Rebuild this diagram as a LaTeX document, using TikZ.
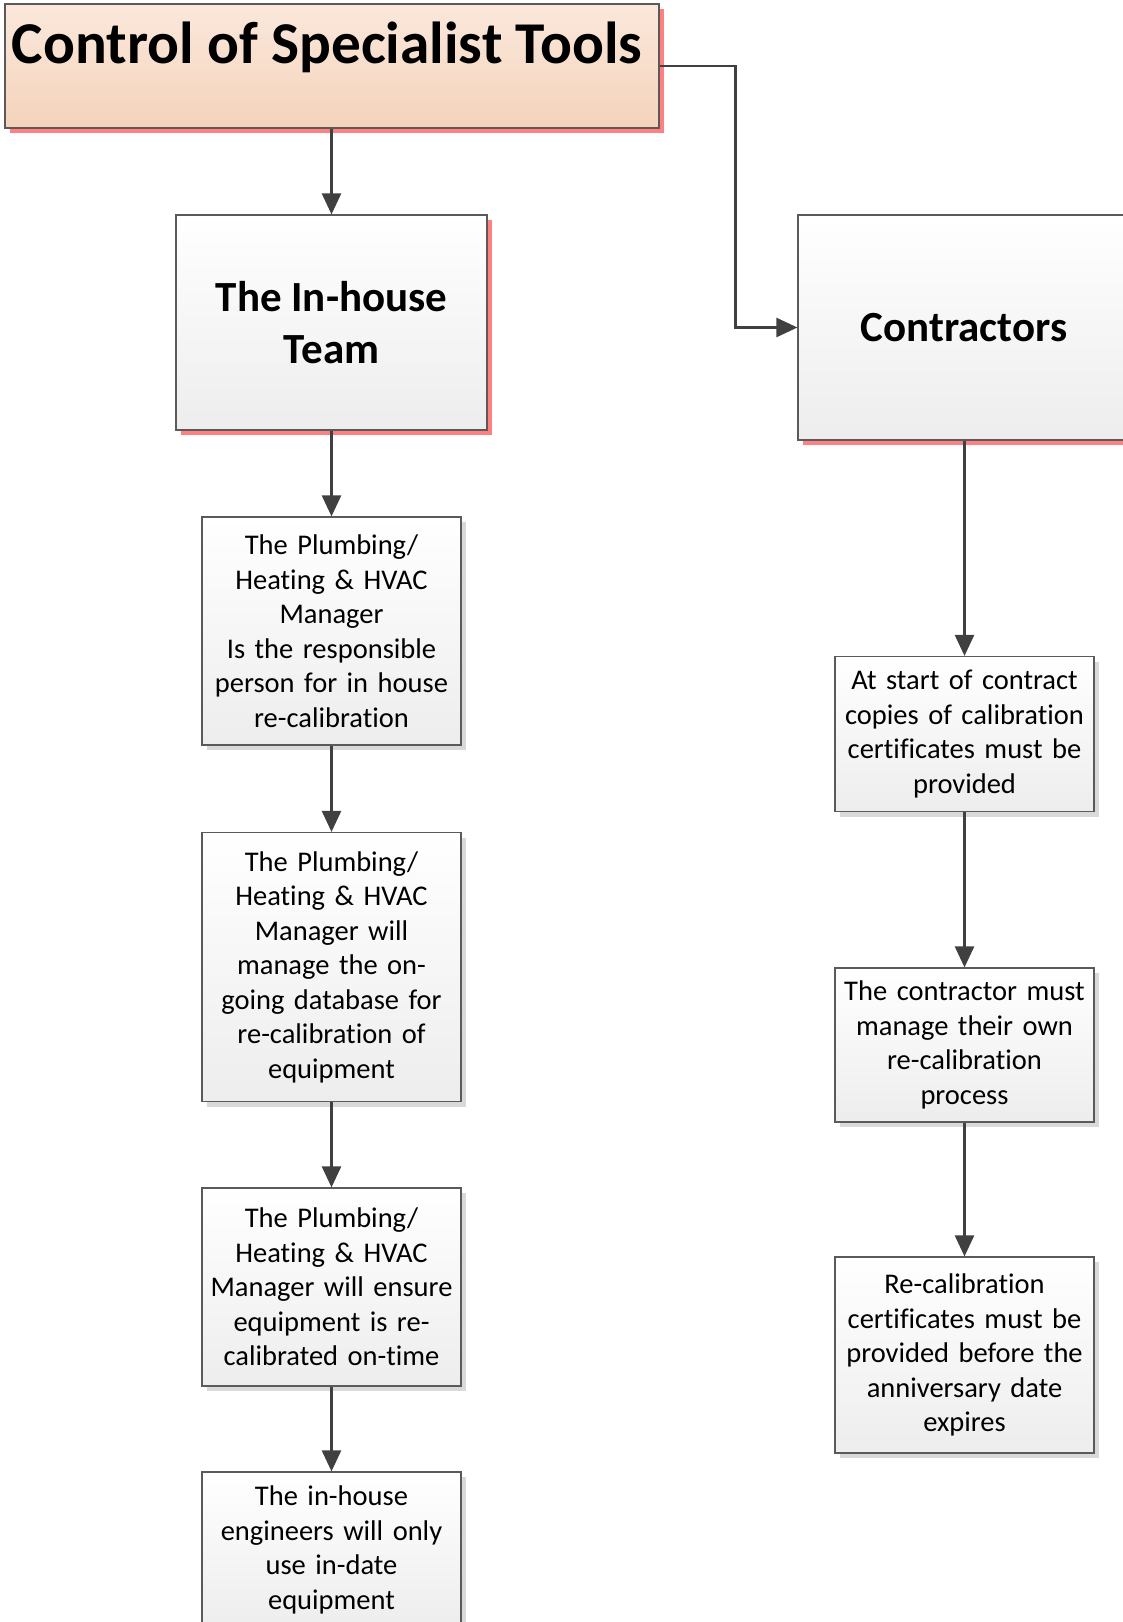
\documentclass[tikz,border=0pt]{standalone}
\usepackage{fontspec}
\setmainfont{Carlito}[RawFeature={-liga;-clig;-dlig;-calt}]
\usetikzlibrary{arrows.meta,shadows}
\definecolor{edge}{HTML}{5A5A5A}
\definecolor{wire}{HTML}{404040}
\definecolor{peachtop}{HTML}{FBE8DC}
\definecolor{peachbot}{HTML}{F4D3BB}
\definecolor{pinkshadow}{HTML}{FF8080}
\definecolor{greyshadow}{HTML}{D9D9D9}
\definecolor{boxbot}{HTML}{EDEDED}
\tikzset{
  panel/.style={rectangle, draw=edge, line width=1.2pt, inner sep=0pt,
    top color=white, bottom color=boxbot, align=center},
  redshade/.style={general shadow={fill=pinkshadow, shadow xshift=5pt, shadow yshift=-5pt}},
  greyshade/.style={general shadow={fill=greyshadow, shadow xshift=5pt, shadow yshift=-5pt}},
  headbox/.style={panel, redshade, font=\bfseries\fontsize{43}{52}\selectfont},
  stepbox/.style={panel, greyshade, minimum width=259pt, text width=250pt,
    font=\fontsize{28.5}{34.5}\selectfont},
  arr/.style={draw=wire, line width=2.6pt, -{Triangle[width=19pt,length=21pt]}}
}
\begin{document}
\begin{tikzpicture}[x=1pt,y=-1pt]
\useasboundingbox (0,0) rectangle (1122,1622);

% top banner
\node[panel, redshade, top color=peachtop, bottom color=peachbot,
  minimum width=654pt, minimum height=124pt] (title) at (332,66) {};
\node[font=\bfseries\fontsize{59.3}{64}\selectfont, anchor=base] (titletext) at (327,63)
  {Control of Specialist Tools};

% two branch headers
\node[headbox, minimum width=311pt, minimum height=215pt] (inhouse) at (331.5,322.5)
  {The In-house\\Team};
\node[headbox, minimum width=332pt, minimum height=225pt] (contr) at (964,327.5)
  {Contractors};

% in-house steps
\node[stepbox, minimum height=228pt] (l1) at (331.5,631)
  {The Plumbing/\\Heating \& HVAC\\Manager\\Is the responsible\\person for in house\\re-calibration};
\node[stepbox, minimum height=269pt] (l2) at (331.5,967)
  {The Plumbing/\\Heating \& HVAC\\Manager will\\manage the on-\\going database for\\re-calibration of\\equipment};
\node[stepbox, minimum height=198pt] (l3) at (331.5,1287)
  {The Plumbing/\\Heating \& HVAC\\Manager will ensure\\equipment is re-\\calibrated on-time};
\node[stepbox, minimum height=156pt] (l4) at (331.5,1550)
  {The in-house\\engineers will only\\use in-date\\equipment};

% contractor steps
\node[stepbox, minimum height=155pt] (r1) at (964.5,734)
  {At start of contract\\copies of calibration\\certificates must be\\provided};
\node[stepbox, minimum height=154pt] (r2) at (964.5,1045)
  {The contractor must\\manage their own\\re-calibration\\process};
\node[stepbox, minimum height=196pt] (r3) at (964.5,1355)
  {Re-calibration\\certificates must be\\provided before the\\anniversary date\\expires};

% connectors
\draw[arr] (title.south -| inhouse.north) -- (inhouse.north);
\draw[arr] (title.east) -- ++(76,0) |- (contr.west);
\draw[arr] (inhouse) -- (l1);
\draw[arr] (l1) -- (l2);
\draw[arr] (l2) -- (l3);
\draw[arr] (l3) -- (l4);
\draw[arr] (contr.south -| r1.north) -- (r1.north);
\draw[arr] (r1) -- (r2);
\draw[arr] (r2) -- (r3);
\end{tikzpicture}
\end{document}
